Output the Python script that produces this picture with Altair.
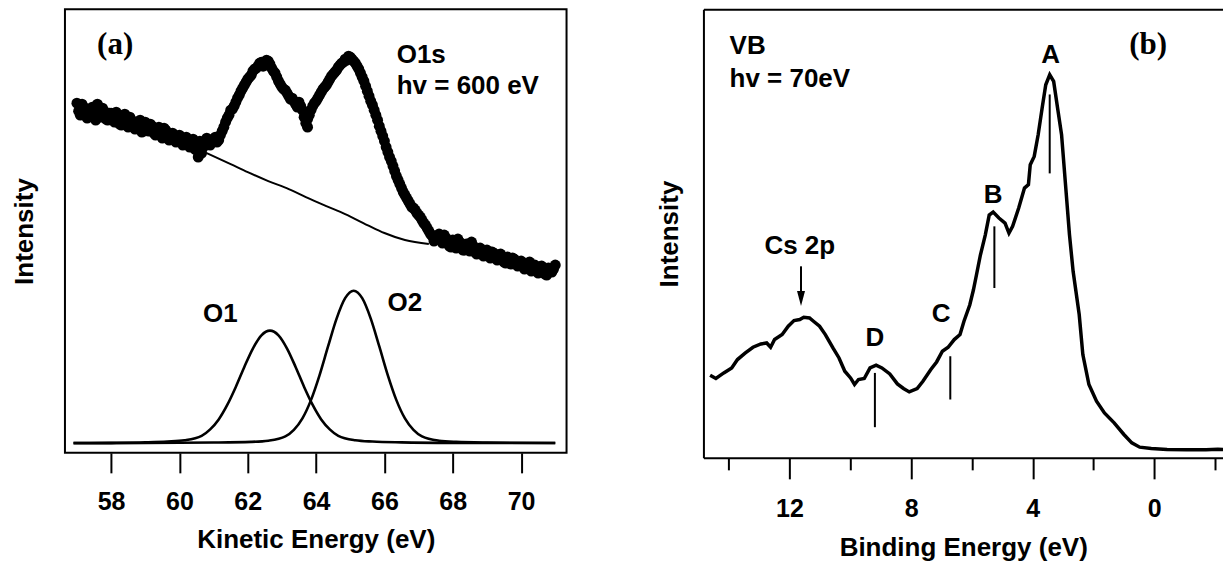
import altair as alt
import pandas as pd

FONT = "Liberation Sans"
SERIF = "Liberation Serif"

# ---------------- Panel (a): O1s core level, hv = 600 eV ----------------
o1s_ke_main = [round(57.0 + 0.1 * i, 1) for i in range(141)]
o1s_int_main = [
    350, 338, 346, 335, 344, 337, 349, 336, 342, 333,
    340, 331, 338, 328, 339, 326, 333, 324, 330, 321,
    331, 322, 327, 318, 326, 315, 323, 313, 320, 311,
    318, 308, 316, 306, 314, 303, 312, 306, 315, 308,
    314, 311, 318, 326, 335, 343, 347, 355, 362, 368,
    374, 378, 384, 387, 391, 388, 392, 385, 380, 372,
    366, 363, 357, 355, 349, 351, 343, 330, 338, 347,
    352, 358, 364, 368, 374, 379, 383, 388, 391, 393,
    396, 392, 387, 380, 372, 362, 352, 343, 333, 322,
    312, 301, 292, 282, 273, 265, 258, 252, 246, 243,
    238, 233, 228, 222, 217, 214, 219, 210, 215, 207,
    213, 205, 211, 203, 209, 202, 207, 199, 205, 197,
    203, 195, 200, 193, 199, 191, 196, 189, 194, 187,
    192, 184, 190, 182, 188, 180, 187, 179, 185, 181,
    188,
]
o1s_ke_mid = [round(57.05 + 0.1 * i, 2) for i in range(140)]
o1s_int_mid = [
    342, 349, 339, 341, 346, 333, 343, 345, 334, 340,
    336, 341, 329, 335, 331, 336, 327, 329, 333, 322,
    326, 329, 320, 323, 319, 325, 316, 318, 314, 317,
    312, 314, 309, 311, 304, 309, 300, 312, 309, 313,
    316, 313, 322, 331, 338, 344, 351, 358, 365, 371,
    376, 382, 385, 390, 387, 393, 389, 382, 376, 369,
    364, 360, 354, 352, 346, 347, 336, 334, 343, 350,
    355, 361, 366, 371, 377, 381, 386, 390, 394, 397,
    394, 390, 384, 376, 367, 357, 348, 338, 327, 317,
    306, 296, 287, 277, 269, 261, 255, 249, 245, 240,
    236, 230, 225, 219, 212, 217, 213, 218, 210, 206,
    209, 214, 206, 203, 207, 211, 201, 204, 200, 202,
    198, 201, 196, 198, 194, 190, 193, 195, 189, 190,
    188, 186, 191, 185, 183, 186, 182, 178, 183, 184,
]
o1s_ke_extra = [60.55, 63.75]
o1s_int_extra = [296, 326]

bg_ke = [60.8, 61.5, 62.0, 62.6, 63.2, 63.7, 64.3, 64.85, 65.5, 66.0, 66.6, 67.3]
bg_int = [300, 289, 281, 272, 264, 256, 247, 239, 228, 220, 213, 209]

o1_ke = [56.9, 58.0, 59.0, 59.65, 60.15, 60.65, 60.9, 61.15, 61.4, 61.65, 61.9, 62.15,
         62.4, 62.65, 62.9, 63.15, 63.4, 63.65, 63.9, 64.15, 64.4, 64.65, 65.15, 65.65,
         66.5, 68.0, 71.0]
o1_int = [9.8, 10.0, 10.5, 11.3, 12.6, 17.0, 23.5, 33.5, 48.0, 66.0, 86.0, 104.4,
          117.6, 122.3, 117.6, 104.4, 86.0, 66.0, 48.0, 33.5, 23.5, 17.0, 12.6, 11.3,
          10.5, 10.0, 9.8]

o2_ke = [56.9, 59.0, 61.0, 62.1, 62.6, 63.1, 63.35, 63.6, 63.85, 64.1, 64.35, 64.6,
         64.85, 65.1, 65.35, 65.6, 65.85, 66.1, 66.35, 66.6, 66.85, 67.1, 67.6, 68.1,
         69.0, 71.0]
o2_int = [9.7, 9.9, 10.3, 11.0, 12.2, 16.5, 23.0, 34.5, 52.8, 77.6, 106.5, 134.4,
          154.8, 162.3, 154.8, 134.4, 106.5, 77.6, 52.8, 34.5, 23.0, 16.5, 12.2, 11.0,
          10.3, 9.8]

a_ticks = [58, 60, 62, 64, 66, 68, 70]

a_left_text = ["O1s", "hv = 600 eV"]
a_left_ke = [66.36, 66.36]
a_left_int = [398, 367]

a_peak_text = ["O1", "O2"]
a_peak_ke = [61.2, 66.6]
a_peak_int = [139, 150]

# ---------------- Panel (b): valence band, hv = 70 eV ----------------
vb_be = [14.61, 14.42, 14.16, 13.9, 13.71, 13.45, 13.2, 12.94, 12.75, 12.62, 12.49, 12.24,
         12.04, 11.85, 11.66, 11.53, 11.34, 11.21, 11.01, 10.82, 10.57, 10.37, 10.18, 9.99,
         9.86, 9.73, 9.54, 9.35, 9.15, 8.96, 8.7, 8.45, 8.25, 8.06, 7.8, 7.61, 7.35, 7.16,
         6.97, 6.78, 6.58, 6.39, 6.26, 6.07, 5.95, 5.85, 5.72, 5.56, 5.43, 5.3, 5.11, 4.91,
         4.78, 4.66, 4.46, 4.27, 4.14, 4.08, 3.95, 3.82, 3.69, 3.57, 3.44, 3.31, 3.18, 3.05,
         2.92, 2.79, 2.67, 2.47, 2.35, 2.15, 1.9, 1.64, 1.32, 1.0, 0.74, 0.48, 0.1, -0.42,
         -1.06, -1.7, -2.09, -2.47]
vb_int = [82.7, 79.4, 85, 90, 98.4, 105, 110.7, 114, 115, 110.7, 118.4, 123.4,
          131.7, 137.4, 138.4, 140.7, 140, 136.7, 131.7, 123.4, 110, 100, 86.7, 80,
          73.4, 78.4, 79.4, 90, 92.7, 90, 84, 74, 69.4, 66, 69.4, 76.7, 88.4, 96,
          106.7, 110.7, 118.4, 123.4, 136.7, 153, 168, 183, 203, 223, 243, 246, 240, 235,
          225, 231.7, 250, 270, 273.4, 293.4, 301.7, 323.4, 350, 373.4, 383.4, 376.7, 350, 323.4,
          273.4, 223.4, 186.7, 143.4, 103.4, 73.4, 56.7, 45, 35, 23.4, 15, 10.7, 9.4, 8.4,
          8, 8, 8.7, 8]

mark_be = [3.44, 5.26, 6.71, 9.19]
mark_top = [363.7, 231.7, 101.7, 85.0]
mark_bot = [284.7, 170.0, 58.4, 30.7]

peak_text = ["A", "B", "C", "D", "Cs 2p"]
peak_be = [3.41, 5.3, 7.01, 9.19, 11.66]
peak_int = [402.7, 263.4, 143.7, 120.0, 211.7]

arrow_be = [11.62]
arrow_top = [191.7]
arrow_bot = [162.0]
arrow_head = [159.5]

b_left_text = ["VB", "hv = 70eV"]
b_left_be = [13.97, 13.97]
b_left_int = [411.7, 378.7]

b_major = [12, 8, 4, 0]
b_minor = [14, 10, 6, 2, -2]

# ---------------- sizes ----------------
WA, HA = 502, 444
WB, HB = 520, 449

# ================= Panel (a) =================
xa_scale = alt.Scale(domain=[56.65, 71.33], nice=False, zero=False)
ya_scale = alt.Scale(domain=[0, HA], nice=False, zero=False)
xa_axis = alt.Axis(values=a_ticks, title="Kinetic Energy (eV)", domain=False,
                   tickSize=20, tickWidth=2, tickColor="black", labelPadding=17,
                   titlePadding=12, grid=False, format="d")
ya_axis = alt.Axis(title="Intensity", labels=False, ticks=False, domain=False,
                   grid=False, titlePadding=27)

XA = alt.X("x:Q", scale=xa_scale, axis=xa_axis)
YA = alt.Y("y:Q", scale=ya_scale, axis=ya_axis)

df_pts = pd.DataFrame({
    "x": o1s_ke_main + o1s_ke_mid + o1s_ke_extra,
    "y": o1s_int_main + o1s_int_mid + o1s_int_extra,
})
df_bg = pd.DataFrame({"x": bg_ke, "y": bg_int})
df_o1 = pd.DataFrame({"x": o1_ke, "y": o1_int})
df_o2 = pd.DataFrame({"x": o2_ke, "y": o2_int})

pts = alt.Chart(df_pts).mark_circle(size=120, color="black", opacity=1).encode(x=XA, y=YA)
bg = alt.Chart(df_bg).mark_line(color="black", strokeWidth=2, interpolate="monotone").encode(x=XA, y=YA)
c1 = alt.Chart(df_o1).mark_line(color="black", strokeWidth=2.6, interpolate="monotone").encode(x=XA, y=YA)
c2 = alt.Chart(df_o2).mark_line(color="black", strokeWidth=2.6, interpolate="monotone").encode(x=XA, y=YA)

t_a = alt.Chart(pd.DataFrame({"x": [58.12], "y": [408], "t": ["(a)"]})).mark_text(
    font=SERIF, fontWeight="bold", fontSize=31, color="black", align="center", baseline="middle"
).encode(x=XA, y=YA, text="t:N")
t_left_a = alt.Chart(pd.DataFrame({"x": a_left_ke, "y": a_left_int, "t": a_left_text})).mark_text(
    font=FONT, fontWeight="bold", fontSize=26, color="black", align="left", baseline="middle"
).encode(x=XA, y=YA, text="t:N")
t_peak_a = alt.Chart(pd.DataFrame({"x": a_peak_ke, "y": a_peak_int, "t": a_peak_text})).mark_text(
    font=FONT, fontWeight="bold", fontSize=26, color="black", align="center", baseline="middle"
).encode(x=XA, y=YA, text="t:N")

panel_a = alt.layer(c1, c2, bg, pts, t_a, t_left_a, t_peak_a).properties(
    width=WA, height=HA, view=alt.ViewBackground(stroke="black", strokeWidth=2)
)

# ================= Panel (b) =================
xb_scale = alt.Scale(domain=[-2.26, 14.83], reverse=True, nice=False, zero=False)
yb_scale = alt.Scale(domain=[0, HB], nice=False, zero=False)

xb_major = alt.Axis(values=b_major, title="Binding Energy (eV)", orient="bottom",
                    domain=True, domainWidth=2, domainColor="black",
                    tickSize=21, tickWidth=2, tickColor="black", labelPadding=18,
                    titlePadding=13, grid=False, format="d")
xb_minor = alt.Axis(values=b_minor, title=None, orient="bottom", labels=False,
                    domain=False, tickSize=12, tickWidth=2, tickColor="black", grid=False)
xb_top = alt.Axis(title=None, orient="top", labels=False, ticks=False, domain=True,
                  domainWidth=2, domainColor="black", grid=False)
yb_axis = alt.Axis(title="Intensity", labels=False, ticks=False, domain=True,
                   domainWidth=2, domainColor="black", grid=False, titlePadding=21)

YB = alt.Y("y:Q", scale=yb_scale, axis=yb_axis)

df_vb = pd.DataFrame({"x": vb_be, "y": vb_int})
df_mk = pd.DataFrame({"x": mark_be, "y": mark_top, "y2": mark_bot})
df_pk = pd.DataFrame({"x": peak_be, "y": peak_int, "t": peak_text})
df_ar = pd.DataFrame({"x": arrow_be, "y": arrow_top, "y2": arrow_bot, "h": arrow_head})
df_bl = pd.DataFrame({"x": b_left_be, "y": b_left_int, "t": b_left_text})
df_bt = pd.DataFrame({"x": [0.2], "y": [413.5], "t": ["(b)"]})

vb = alt.Chart(df_vb).mark_line(color="black", strokeWidth=3.5, clip=True).encode(
    x=alt.X("x:Q", scale=xb_scale, axis=xb_major), y=YB
)
marks = alt.Chart(df_mk).mark_rule(color="black", strokeWidth=2).encode(
    x=alt.X("x:Q", scale=xb_scale, axis=xb_minor), y=YB, y2="y2:Q"
)
pk = alt.Chart(df_pk).mark_text(
    font=FONT, fontWeight="bold", fontSize=26, color="black", align="center", baseline="middle"
).encode(x=alt.X("x:Q", scale=xb_scale, axis=xb_top), y=YB, text="t:N")
ar_line = alt.Chart(df_ar).mark_rule(color="black", strokeWidth=2).encode(
    x=alt.X("x:Q", scale=xb_scale, axis=None), y=YB, y2="y2:Q"
)
ar_head = alt.Chart(df_ar).mark_point(
    shape="M-1,-1.9L1,-1.9L0,1.9Z", size=64, filled=True, color="black", opacity=1, strokeWidth=0
).encode(x=alt.X("x:Q", scale=xb_scale, axis=None), y=alt.Y("h:Q", scale=yb_scale, axis=yb_axis))
bl = alt.Chart(df_bl).mark_text(
    font=FONT, fontWeight="bold", fontSize=26, color="black", align="left", baseline="middle"
).encode(x=alt.X("x:Q", scale=xb_scale, axis=None), y=YB, text="t:N")
bt = alt.Chart(df_bt).mark_text(
    font=SERIF, fontWeight="bold", fontSize=31, color="black", align="center", baseline="middle"
).encode(x=alt.X("x:Q", scale=xb_scale, axis=None), y=YB, text="t:N")

panel_b = alt.layer(vb, marks, pk, ar_line, ar_head, bl, bt).resolve_axis(x="independent").properties(
    width=WB, height=HB, view=alt.ViewBackground(stroke="transparent")
)

chart = alt.hconcat(panel_a, panel_b, spacing=89).properties(
    padding={"left": 3, "top": 0, "right": 0, "bottom": 0}
).configure_axis(
    labelFont=FONT, labelFontSize=25, labelFontWeight="bold", labelColor="black",
    titleFont=FONT, titleFontSize=26, titleFontWeight="bold", titleColor="black",
).configure_view(strokeWidth=0)

chart.save("out.html", embed_options={"renderer": "svg", "actions": False})
